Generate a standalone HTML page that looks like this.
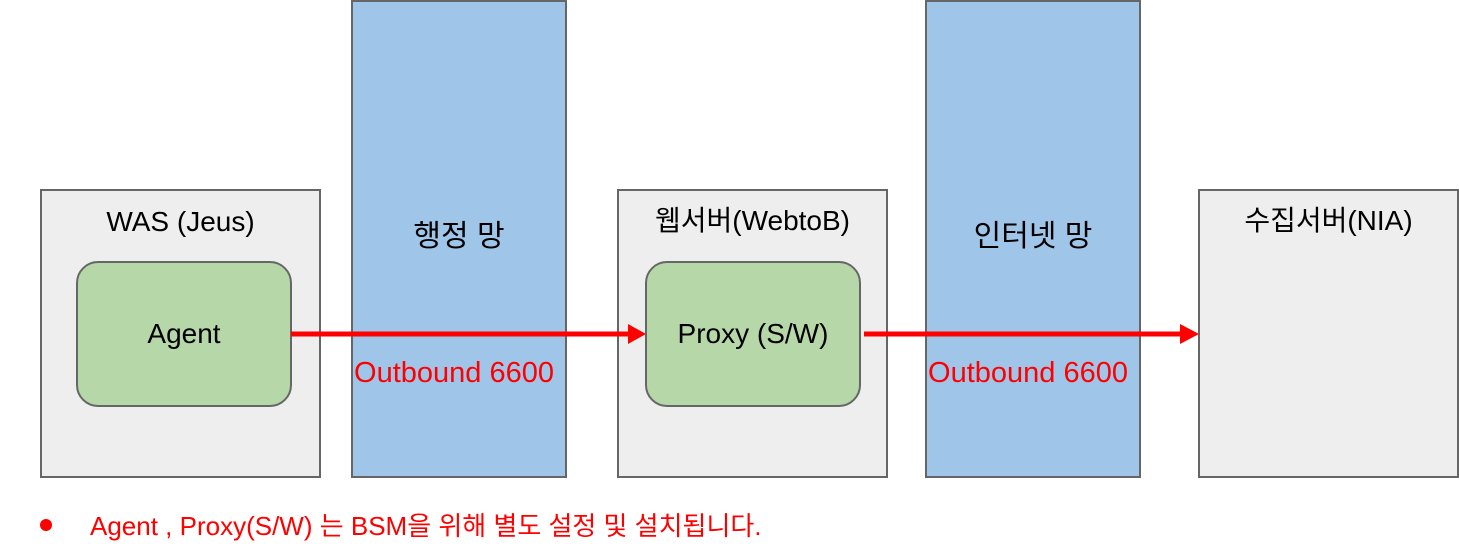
<!DOCTYPE html>
<html><head><meta charset="utf-8"><style>
body{margin:0;width:1459px;height:556px;background:#fff;position:relative;overflow:hidden;font-family:"Liberation Sans","Noto Sans CJK KR",sans-serif}
.b{position:absolute;box-sizing:border-box;border:2px solid #666}
.g{background:#eeeeee}.bl{background:#9fc5e8}
.gr{background:#b6d7a8;border-radius:22px;display:flex;align-items:center;justify-content:center;font-size:28px}
.t{position:absolute;font-size:28px;text-align:center;white-space:nowrap;line-height:34px}
.r{color:#f00}
</style></head><body>
<div class="b g" style="left:40px;top:189px;width:281px;height:289px"></div>
<div class="t" style="left:40px;width:281px;top:205px">WAS (Jeus)</div>
<div class="b bl" style="left:351px;top:0px;width:216px;height:478px"></div>
<div class="t" style="left:351px;width:216px;top:220px;font-size:30px">행정 망</div>
<div class="b g" style="left:617px;top:189px;width:271px;height:289px"></div>
<div class="t" style="left:617px;width:271px;top:204px">웹서버(WebtoB)</div>
<div class="b bl" style="left:925px;top:0px;width:216px;height:478px"></div>
<div class="t" style="left:925px;width:216px;top:220px;font-size:30px">인터넷 망</div>
<div class="b g" style="left:1198px;top:189px;width:261px;height:289px"></div>
<div class="t" style="left:1198px;width:261px;top:204px">수집서버(NIA)</div>
<div class="b gr" style="left:76px;top:261px;width:216px;height:146px">Agent</div>
<div class="b gr" style="left:645px;top:261px;width:216px;height:146px">Proxy (S/W)</div>
<svg style="position:absolute;left:0;top:0" width="1459" height="556">
<line x1="291" y1="334" x2="630" y2="334" stroke="#f00" stroke-width="5"/>
<polygon points="628,324 646,334 628,344" fill="#f00"/>
<line x1="864" y1="334" x2="1182" y2="334" stroke="#f00" stroke-width="5"/>
<polygon points="1180,324 1199,334 1180,344" fill="#f00"/>
</svg>
<div class="t r" style="left:351px;width:206px;top:356px;font-size:29px">Outbound 6600</div>
<div class="t r" style="left:925px;width:206px;top:356px;font-size:29px">Outbound 6600</div>
<div style="position:absolute;left:40px;top:519px;width:12px;height:12px;border-radius:50%;background:#f00"></div>
<div class="t r" style="left:90px;top:509px;font-size:26px;text-align:left">Agent , Proxy(S/W) 는 BSM을 위해 별도 설정 및 설치됩니다.</div>
</body></html>
